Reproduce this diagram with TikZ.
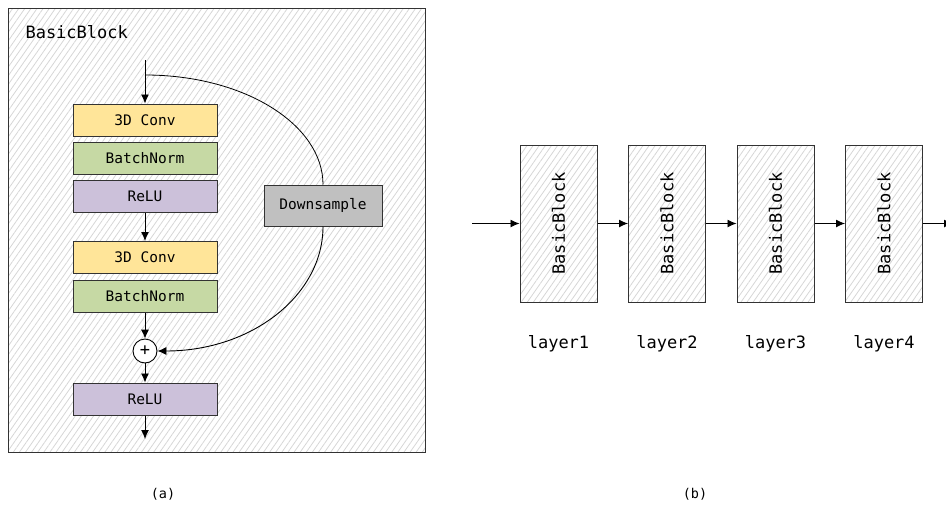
\documentclass[tikz,border=0pt]{standalone}
\usepackage{fontspec}
\usepackage{graphicx}
\setmonofont{DejaVu Sans Mono}
\usetikzlibrary{arrows.meta,patterns.meta}
\definecolor{convc}{HTML}{FFE599}
\definecolor{bnc}{HTML}{C6D9A4}
\definecolor{reluc}{HTML}{CCC1DA}
\definecolor{dsc}{HTML}{C0C0C0}
\definecolor{edge}{HTML}{333333}
\begin{document}
\begin{tikzpicture}[x=1pt,y=-1pt,
  hatch/.style={pattern={Lines[angle=55,distance=5pt,line width=0.8pt]}, pattern color=black!16},
  blk/.style={draw=edge, line width=1pt, minimum width=144pt, minimum height=32pt, inner sep=0pt,
    font=\ttfamily\fontsize{14.5}{16}\selectfont},
  conv/.style={blk, fill=convc},
  bn/.style={blk, fill=bnc},
  relu/.style={blk, fill=reluc},
  ds/.style={blk, fill=dsc, minimum width=118pt, minimum height=41pt},
  big/.style={font=\ttfamily\fontsize{17}{19}\selectfont},
  layerbox/.style={draw=edge, line width=1pt, hatch, minimum width=77pt, minimum height=157pt, inner sep=0pt,
    font=\ttfamily\fontsize{17}{19}\selectfont},
  captxt/.style={font=\ttfamily\fontsize{13.5}{15}\selectfont},
  arr/.style={-{Latex[length=9pt,width=8pt]}, line width=0.9pt},
  curve/.style={line width=0.8pt}]
\useasboundingbox (0,0) rectangle (946,506);

% (a) frame
\node[draw=edge, line width=1pt, hatch, minimum width=417pt, minimum height=444pt, inner sep=0pt, anchor=north west] (frame) at (8,8) {};
\node[big, anchor=west] (title) at (22,32) {BasicBlock};

\node[conv] (conv1) at (145,120) {3D Conv};
\node[bn]   (bn1)   at (145,158) {BatchNorm};
\node[relu] (relu1) at (145,196.5) {ReLU};
\node[conv] (conv2) at (145,257.5) {3D Conv};
\node[bn]   (bn2)   at (145,296) {BatchNorm};
\node[circle, draw=black, fill=white, line width=0.9pt, minimum size=24pt, inner sep=0pt,
      font=\ttfamily\fontsize{17}{19}\selectfont] (plus) at (145,351) {+};
\node[relu] (relu2) at (145,399) {ReLU};
\node[ds]   (down)  at (323,205.5) {Downsample};

\coordinate (in) at (145,60);
\coordinate (br) at (145,75);
\coordinate (out) at (145,439);

\draw[arr] (in) -- (conv1.north);
\draw[arr] (relu1.south) -- (conv2.north);
\draw[arr] (bn2.south) -- (plus.north);
\draw[arr] (plus.south) -- (relu2.north);
\draw[arr] (relu2.south) -- (out);
\draw[curve] (br) .. controls (245,75) and (323,125) .. (down.north);
\draw[curve,arr] (down.south) .. controls (323,295) and (252,351) .. (plus.east);

% (b)
\node[layerbox] (b1) at (558.5,223.5) {\rotatebox{90}{BasicBlock}};
\node[layerbox] (b2) at (667,223.5) {\rotatebox{90}{BasicBlock}};
\node[layerbox] (b3) at (775.5,223.5) {\rotatebox{90}{BasicBlock}};
\node[layerbox] (b4) at (884,223.5) {\rotatebox{90}{BasicBlock}};
\coordinate (bin) at (472,223.5);
\coordinate (bout) at (953,223.5);
\draw[arr] (bin) -- (b1.west);
\draw[arr] (b1.east) -- (b2.west);
\draw[arr] (b2.east) -- (b3.west);
\draw[arr] (b3.east) -- (b4.west);
\draw[arr] (b4.east) -- (bout);

\node[big] (l1) at (558.5,344) {layer1};
\node[big] (l2) at (667,344) {layer2};
\node[big] (l3) at (775.5,344) {layer3};
\node[big] (l4) at (884,344) {layer4};

\node[captxt] (capa) at (163,494) {(a)};
\node[captxt] (capb) at (695,494) {(b)};
\end{tikzpicture}
\end{document}
